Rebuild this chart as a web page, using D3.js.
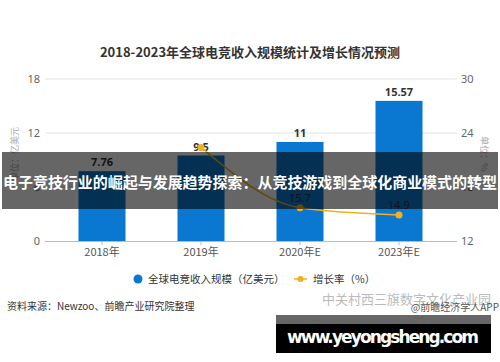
<!DOCTYPE html>
<html>
<head>
<meta charset="utf-8">
<script src="https://cdn.jsdelivr.net/npm/d3@7/dist/d3.min.js"></script>
<style>
  body { margin: 0; background: #fff; }
  text { font-family: "Noto Sans CJK SC", "Noto Sans", sans-serif; }
</style>
</head>
<body>
<div id="chart"></div>
<script>
var years = ['2018年', '2019年', '2020年E', '2023年E'];
var revenue = [7.76, 9.5, 11, 15.57];
var growth = [null, 22.4, 15.7, 14.9];
var leftTicks = [0, 6, 12, 18];
var rightTicks = [12, 18, 24, 30];

var width = 500,
    height = 362,
    barColor = '#0a78d0',
    lineColor = '#f2b01e';

var svg = d3.select('#chart').append('svg')
    .attr('width', width)
    .attr('height', height);

svg.append('rect')
  .attr('width', width)
  .attr('height', height)
  .attr('fill', '#fff');

var x = d3.scaleBand()
    .domain(years)
    .range([52.5, 448.5])
    .paddingInner(0.525)
    .paddingOuter(0.2625);

var y = d3.scaleLinear()
    .domain([0, 18])
    .range([241, 79]);

var y2 = d3.scaleLinear()
    .domain([12, 30])
    .range([241, 79]);

// title
svg.append('text')
  .attr('x', 250)
  .attr('y', 57)
  .attr('text-anchor', 'middle')
  .style('font-size', '13px')
  .style('font-weight', 'bold')
  .style('fill', '#333')
  .text('2018-2023年全球电竞收入规模统计及增长情况预测');

// grid lines
svg.append('g')
  .selectAll('line')
  .data(leftTicks.slice(1))
  .enter()
  .append('line')
  .attr('x1', 45)
  .attr('x2', 457)
  .attr('y1', function (d) { return y(d); })
  .attr('y2', function (d) { return y(d); })
  .style('stroke', '#e3e3e3')
  .style('stroke-width', 1);

// left axis labels
var yAxis = d3.axisLeft(y)
    .tickValues(leftTicks)
    .tickSize(0)
    .tickPadding(0);

var gy = svg.append('g')
  .attr('transform', 'translate(40,0)')
  .call(yAxis);
gy.select('.domain').remove();
gy.selectAll('text')
  .style('font-size', '11px')
  .style('fill', '#666')
  .style('font-family', '"Noto Sans", sans-serif');

var y2Axis = d3.axisRight(y2)
    .tickValues(rightTicks)
    .tickSize(0)
    .tickPadding(0);

var gy2 = svg.append('g')
  .attr('transform', 'translate(461,0)')
  .call(y2Axis);
gy2.select('.domain').remove();
gy2.selectAll('text')
  .style('font-size', '11px')
  .style('fill', '#666')
  .style('font-family', '"Noto Sans", sans-serif');

// axis titles
svg.append('text')
  .attr('transform', 'translate(18,154) rotate(-90)')
  .attr('text-anchor', 'middle')
  .style('font-size', '9px')
  .style('fill', '#aaa')
  .text('单位：亿美元');

svg.append('text')
  .attr('transform', 'translate(481,154) rotate(90)')
  .attr('text-anchor', 'middle')
  .style('font-size', '9px')
  .style('fill', '#aaa')
  .text('单位：%');

// bars
svg.append('g')
  .selectAll('.bar')
  .data(revenue)
  .enter()
  .append('rect')
  .attr('class', 'bar')
  .attr('x', function (d, i) { return x(years[i]); })
  .attr('y', function (d) { return y(d); })
  .attr('width', x.bandwidth())
  .attr('height', function (d) { return y(0) - y(d); })
  .style('fill', barColor);

svg.append('g')
  .selectAll('text')
  .data(revenue)
  .enter()
  .append('text')
  .attr('x', function (d, i) { return x(years[i]) + x.bandwidth() / 2; })
  .attr('y', function (d) { return y(d) - 5; })
  .attr('text-anchor', 'middle')
  .style('font-size', '11px')
  .style('font-weight', 'bold')
  .style('fill', '#333')
  .style('font-family', '"Noto Sans", sans-serif')
  .text(function (d) { return d; });

// x axis
var xAxis = d3.axisBottom(x)
    .tickSize(4)
    .tickSizeOuter(0)
    .tickPadding(3);

var gx = svg.append('g')
  .attr('transform', 'translate(0,241)')
  .call(xAxis);
gx.select('.domain')
  .attr('d', 'M45,0.5H457')
  .style('stroke', '#bbb');
gx.selectAll('.tick line').style('stroke', '#bbb');
gx.selectAll('text')
  .style('font-size', '11px')
  .style('fill', '#555');

// growth line
var pts = growth
  .map(function (d, i) { return { year: years[i], v: d }; })
  .filter(function (d) { return d.v !== null; });

var line = d3.line()
    .x(function (d) { return x(d.year) + x.bandwidth() / 2; })
    .y(function (d) { return y2(d.v); })
    .curve(d3.curveMonotoneX);

svg.append('path')
  .datum(pts)
  .attr('d', line)
  .style('fill', 'none')
  .style('stroke', lineColor)
  .style('stroke-width', 1.5);

svg.append('g')
  .selectAll('circle')
  .data(pts)
  .enter()
  .append('circle')
  .attr('cx', function (d) { return x(d.year) + x.bandwidth() / 2; })
  .attr('cy', function (d) { return y2(d.v); })
  .attr('r', 3.5)
  .style('fill', lineColor);

svg.append('g')
  .selectAll('text')
  .data(pts.slice(1))
  .enter()
  .append('text')
  .attr('x', function (d) { return x(d.year) + x.bandwidth() / 2; })
  .attr('y', function (d) { return y2(d.v) - 6; })
  .attr('text-anchor', 'middle')
  .style('font-size', '11px')
  .style('fill', '#333')
  .style('font-family', '"Noto Sans", sans-serif')
  .text(function (d) { return d.v; });

// legend
svg.append('circle')
  .attr('cx', 138)
  .attr('cy', 279)
  .attr('r', 4.5)
  .style('fill', barColor);
svg.append('text')
  .attr('x', 148)
  .attr('y', 283)
  .style('font-size', '10.5px')
  .style('fill', '#333')
  .text('全球电竞收入规模（亿美元）');

svg.append('line')
  .attr('x1', 294)
  .attr('x2', 307)
  .attr('y1', 279)
  .attr('y2', 279)
  .style('stroke', lineColor)
  .style('stroke-width', 1.5);
svg.append('circle')
  .attr('cx', 300.5)
  .attr('cy', 279)
  .attr('r', 3)
  .style('fill', lineColor);
svg.append('text')
  .attr('x', 313)
  .attr('y', 283)
  .style('font-size', '10.5px')
  .style('fill', '#333')
  .text('增长率（%）');

// source
svg.append('text')
  .attr('x', 7)
  .attr('y', 310)
  .style('font-size', '10px')
  .style('fill', '#333')
  .text('资料来源：Newzoo、前瞻产业研究院整理');

svg.append('text')
  .attr('x', 322)
  .attr('y', 304)
  .style('font-size', '13px')
  .style('fill', '#bbb')
  .text('中关村西三旗数字文化产业园');

svg.append('text')
  .attr('x', 499)
  .attr('y', 311)
  .attr('text-anchor', 'end')
  .style('font-size', '10px')
  .style('fill', '#555')
  .text('@前瞻经济学人APP');

// overlay banner
svg.append('rect')
  .attr('x', 2)
  .attr('y', 152)
  .attr('width', 496)
  .attr('height', 57)
  .style('fill', '#000')
  .style('opacity', 0.6);

svg.append('text')
  .attr('x', 250)
  .attr('y', 188)
  .attr('text-anchor', 'middle')
  .attr('textLength', 494)
  .style('font-size', '15px')
  .style('font-weight', 'bold')
  .style('fill', '#fff')
  .text('电子竞技行业的崛起与发展趋势探索：从竞技游戏到全球化商业模式的转型');

// site box
svg.append('rect')
  .attr('x', 276)
  .attr('y', 315)
  .attr('width', 215)
  .attr('height', 9)
  .style('fill', '#666');
svg.append('rect')
  .attr('x', 276)
  .attr('y', 324)
  .attr('width', 215)
  .attr('height', 29)
  .style('fill', '#000');
svg.append('text')
  .attr('x', 383)
  .attr('y', 343)
  .attr('text-anchor', 'middle')
  .style('font-size', '17px')
  .style('font-weight', 'bold')
  .style('fill', '#fff')
  .style('font-family', '"DejaVu Sans", sans-serif')
  .attr('textLength', 192)
  .text('www.yeyongsheng.com');
</script>
</body>
</html>
